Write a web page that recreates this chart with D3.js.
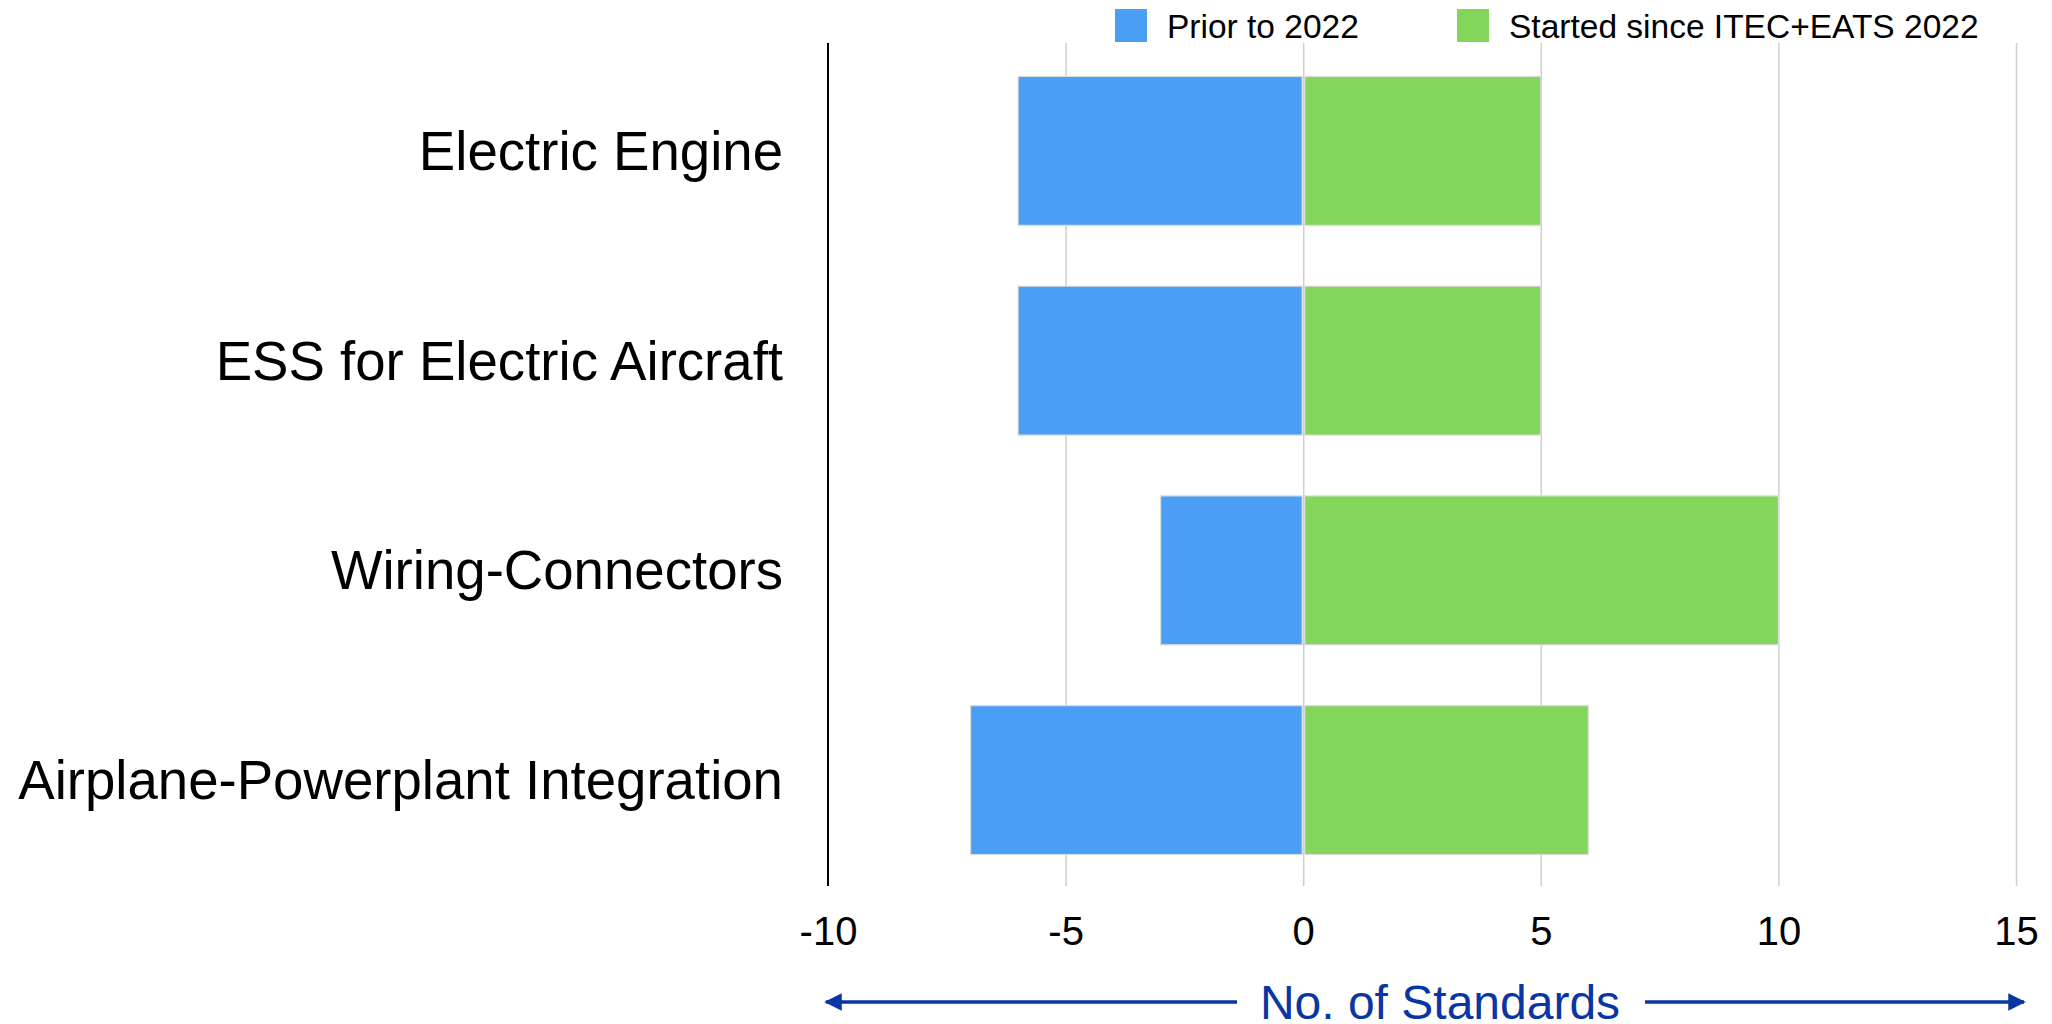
<!DOCTYPE html>
<html>
<head>
<meta charset="utf-8">
<script src="https://cdn.jsdelivr.net/npm/d3@7"></script>
<style>
  html, body { margin: 0; padding: 0; background: #ffffff; }
  svg { display: block; font-family: "Liberation Sans", Arial, Helvetica, sans-serif; }
</style>
</head>
<body>
<svg id="chart" width="2052" height="1024"></svg>
<script>
// Standards activity per technology area
const categories = [
  "Electric Engine",
  "ESS for Electric Aircraft",
  "Wiring-Connectors",
  "Airplane-Powerplant Integration"
];
const priorTo2022 = [-6, -6, -3, -7];
const startedSince2022 = [5, 5, 10, 6];
const seriesNames = ["Prior to 2022", "Started since ITEC+EATS 2022"];
const seriesColors = ["#4a9ff5", "#84d65a"];
const xTicks = [-10, -5, 0, 5, 10, 15];
const axisTitle = "No. of Standards";

const svg = d3.select("#chart");
const plot = { left: 828, right: 2016, top: 43, bottom: 886 };
const arrowBlue = "#0a36a3";

const x = d3.scaleLinear().domain([-10, 15]).range([plot.left, plot.right]);
const y = d3.scaleBand()
  .domain(categories)
  .range([plot.top + 2, plot.bottom])
  .paddingInner(0.29)
  .paddingOuter(0.15);

// vertical gridlines
const grid = svg.append("g")
  .attr("transform", `translate(0,${plot.top})`)
  .call(d3.axisBottom(x).tickValues(xTicks.filter(t => t !== -10))
    .tickSize(plot.bottom - plot.top).tickFormat(""));
grid.select(".domain").remove();
grid.selectAll(".tick line").attr("stroke", "#cfcfcf").attr("stroke-width", 1.5);

// bars, one layer per series
const rows = categories.map((c, i) => ({ c, vals: [priorTo2022[i], startedSince2022[i]] }));
seriesNames.forEach((name, s) => {
  svg.append("g").selectAll("rect")
    .data(rows)
    .join("rect")
    .attr("x", d => s === 0 ? x(d.vals[s]) : x(0) + 1.5)
    .attr("width", d => s === 0 ? x(0) - x(d.vals[s]) - 1 : x(d.vals[s]) - x(0) - 1.5)
    .attr("y", d => y(d.c))
    .attr("height", y.bandwidth())
    .attr("fill", seriesColors[s])
    .attr("stroke", "#dcdcdc")
    .attr("stroke-width", 1.2);
});

// left axis line at the domain minimum
svg.append("line")
  .attr("x1", x(-10)).attr("x2", x(-10))
  .attr("y1", plot.top).attr("y2", plot.bottom)
  .attr("stroke", "#000").attr("stroke-width", 2);

// category labels
svg.append("g").selectAll("text")
  .data(categories)
  .join("text")
  .attr("x", 783)
  .attr("y", d => y(d) + y.bandwidth() / 2)
  .attr("dy", "0.35em")
  .attr("text-anchor", "end")
  .attr("font-size", 54.6)
  .attr("fill", "#000")
  .text(d => d);

// tick labels (plain hyphen for negatives)
const xAxis = svg.append("g")
  .attr("transform", `translate(0,${plot.bottom})`)
  .call(d3.axisBottom(x).tickValues(xTicks).tickSize(0).tickPadding(0).tickFormat(d => String(d)));
xAxis.select(".domain").remove();
xAxis.selectAll("text")
  .attr("font-family", "'Liberation Sans', Arial, sans-serif")
  .attr("font-size", 40)
  .attr("fill", "#000")
  .attr("dy", null)
  .attr("y", 59);

// axis title with double-headed arrow
const arrowY = 1002;
svg.append("text")
  .attr("x", (1260 + 1620) / 2)
  .attr("y", 1019)
  .attr("text-anchor", "middle")
  .attr("font-size", 48)
  .attr("fill", arrowBlue)
  .text(axisTitle);

const defs = svg.append("defs");
defs.append("marker")
  .attr("id", "head")
  .attr("viewBox", "0 0 10 10")
  .attr("refX", 9).attr("refY", 5)
  .attr("markerWidth", 5).attr("markerHeight", 6)
  .attr("markerUnits", "strokeWidth")
  .attr("orient", "auto-start-reverse")
  .append("path")
  .attr("d", "M0,0 L10,5 L0,10 Z")
  .attr("fill", arrowBlue);

svg.append("line")
  .attr("x1", 1237).attr("x2", x(-10) - 2)
  .attr("y1", arrowY).attr("y2", arrowY)
  .attr("stroke", arrowBlue).attr("stroke-width", 3.5)
  .attr("marker-end", "url(#head)");
svg.append("line")
  .attr("x1", 1645).attr("x2", x(15) + 8)
  .attr("y1", arrowY).attr("y2", arrowY)
  .attr("stroke", arrowBlue).attr("stroke-width", 3.5)
  .attr("marker-end", "url(#head)");

// legend
const legendX = [1115, 1457];
const legend = svg.append("g").selectAll("g")
  .data(seriesNames)
  .join("g")
  .attr("transform", (d, i) => `translate(${legendX[i]},9)`);
legend.append("rect")
  .attr("width", 32).attr("height", 33)
  .attr("fill", (d, i) => seriesColors[i]);
legend.append("text")
  .attr("x", 52).attr("y", 17)
  .attr("dy", "0.35em")
  .attr("font-size", 33.5)
  .attr("fill", "#000")
  .text(d => d);
</script>
</body>
</html>
